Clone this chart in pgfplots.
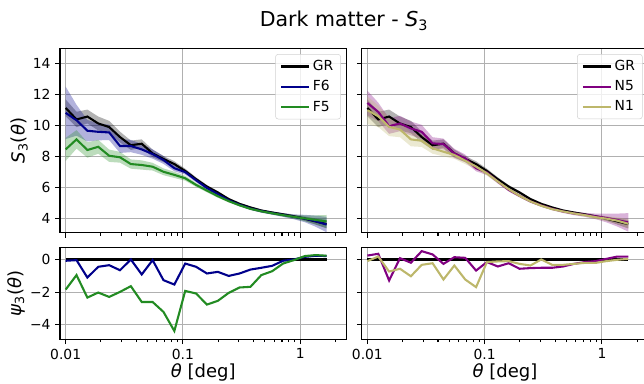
\documentclass[border=0pt]{standalone}
\usepackage{fontspec}
\setmainfont{DejaVu Sans}
\usepackage{pgfplots}
\pgfplotsset{compat=1.18}
\usepackage{pgfplotstable}
\usepgfplotslibrary{fillbetween}

\definecolor{cF6}{RGB}{0,0,139}
\definecolor{cF5}{RGB}{34,139,34}
\definecolor{cN5}{RGB}{128,0,128}
\definecolor{cN1}{RGB}{189,183,107}
\definecolor{gridc}{RGB}{176,176,176}

\pgfplotstableread{
x gr egr f6 ef6 f5 ef5 n5 en5 n1 en1
0.01000 11.14 0.55 10.82 1.70 8.45 0.75 11.46 0.80 10.99 0.90
0.01238 10.39 0.50 10.34 1.00 9.10 0.60 10.88 0.60 10.60 0.70
0.01532 10.58 0.45 9.66 0.70 8.41 0.50 9.96 0.50 9.91 0.60
0.01897 10.13 0.45 9.59 0.55 8.62 0.45 10.13 0.50 9.74 0.50
0.02349 9.90 0.40 9.55 0.50 8.04 0.40 9.81 0.45 9.10 0.45
0.02907 9.25 0.35 8.67 0.45 7.94 0.35 9.59 0.45 9.01 0.40
0.03598 8.72 0.30 8.67 0.40 7.50 0.30 8.84 0.40 8.52 0.35
0.04454 8.82 0.28 8.45 0.35 7.44 0.30 8.80 0.35 8.30 0.30
0.05515 8.19 0.25 8.15 0.30 7.33 0.25 8.19 0.30 8.09 0.25
0.06827 7.83 0.20 7.76 0.25 7.00 0.22 7.87 0.25 7.72 0.22
0.08451 7.50 0.18 7.23 0.20 6.80 0.20 7.23 0.20 7.33 0.18
0.1046 7.05 0.15 6.98 0.16 6.58 0.16 6.95 0.16 6.90 0.15
0.1295 6.52 0.12 6.45 0.13 6.15 0.13 6.37 0.13 6.37 0.12
0.1603 6.04 0.10 5.95 0.11 5.78 0.11 5.83 0.11 5.87 0.10
0.1985 5.66 0.09 5.55 0.10 5.42 0.10 5.44 0.10 5.44 0.09
0.2457 5.23 0.08 5.15 0.09 5.10 0.09 5.08 0.09 5.08 0.08
0.3041 4.92 0.07 4.86 0.09 4.83 0.08 4.82 0.09 4.80 0.08
0.3765 4.69 0.07 4.62 0.09 4.60 0.08 4.60 0.09 4.58 0.08
0.4661 4.49 0.07 4.45 0.10 4.44 0.08 4.43 0.10 4.43 0.08
0.5770 4.36 0.07 4.32 0.10 4.31 0.09 4.30 0.11 4.30 0.09
0.7143 4.24 0.08 4.20 0.12 4.19 0.10 4.21 0.13 4.19 0.10
0.8842 4.11 0.10 4.08 0.16 4.08 0.13 4.11 0.18 4.06 0.12
1.095 3.96 0.14 3.97 0.24 3.98 0.20 4.00 0.28 3.96 0.16
1.355 3.78 0.20 3.80 0.36 3.88 0.30 3.87 0.42 3.83 0.22
1.677 3.61 0.28 3.58 0.50 3.78 0.42 3.72 0.60 3.63 0.30
}\dataS

\pgfplotstableread{
x pf6 pf5 pn5 pn1
0.01000 -0.08 -1.85 0.24 -0.10
0.01238 -0.04 -0.96 0.35 0.18
0.01532 -1.11 -2.34 -1.29 -0.74
0.01897 -0.45 -2.03 0.08 -0.57
0.02349 -0.35 -2.30 -0.20 -1.03
0.02907 -0.66 -1.99 0.51 -0.33
0.03598 0.00 -1.64 0.31 -0.23
0.04454 -0.92 -2.61 -0.27 -1.23
0.05515 -0.04 -2.61 0.14 -0.37
0.06827 -1.27 -3.22 0.10 -1.23
0.08451 -1.54 -4.39 -0.68 -1.70
0.1046 -0.25 -1.93 -0.16 -0.16
0.1295 -0.45 -2.09 -0.43 -0.12
0.1603 -0.86 -2.77 -0.23 -0.10
0.1985 -0.76 -2.54 -0.57 -0.27
0.2457 -1.01 -2.05 -0.53 -0.37
0.3041 -0.86 -1.72 -0.51 0.00
0.3765 -0.62 -1.68 -0.51 -0.33
0.4661 -0.51 -0.96 -0.43 -0.33
0.5770 -0.39 -0.72 -0.27 -0.27
0.7143 -0.08 -0.25 -0.16 -0.21
0.8842 0.00 -0.04 -0.10 -0.21
1.095 0.16 0.21 0.04 -0.10
1.355 0.23 0.27 0.18 -0.02
1.677 0.21 0.23 0.18 0.04
}\dataP

\pgfplotsset{
  every axis/.append style={
    scale only axis, width=215pt,
    axis line style={line width=0.8pt},
    major tick length=3.6pt, minor tick length=2.1pt,
    tick align=outside, xtick pos=left, ytick pos=left,
    xmajorgrids, ymajorgrids,
    grid style={gridc, line width=0.8pt},
    tick style={black, line width=0.8pt},
    tick label style={font=\fontsize{10.4}{12}\selectfont},
    label style={font=\fontsize{13.5}{16}\selectfont},
    xlabel style={yshift=3.5pt},
    ylabel style={yshift=-3pt},
    legend style={at={(1,1)}, anchor=north east, xshift=-4.3pt, yshift=-4.3pt,
      draw=gray!35, rounded corners=2pt, fill=white, fill opacity=0.8, text opacity=1,
      font=\fontsize{10.4}{12}\selectfont, inner xsep=3.5pt, inner ysep=2.5pt,
      row sep=2pt, cells={anchor=west}},
  },
  legend image code/.code={\draw[#1, line width=1.56pt] (0pt,0pt) -- (21pt,0pt);},
}

\begin{document}
\begin{tikzpicture}

\node at (258pt,272pt) {\fontsize{15.4}{18}\selectfont Dark matter - {\itshape S}\textsubscript{3}};

% top left
\begin{axis}[at={(45pt,112.7pt)}, anchor=south west,
  height=138.3pt, xmode=log, xmin=0.00895, xmax=2.49, ymin=3.05, ymax=15.0,
  xtick={0.01,0.1,1}, xticklabels={},
  minor xtick={0.02,0.03,0.04,0.05,0.06,0.07,0.08,0.09,0.2,0.3,0.4,0.5,0.6,0.7,0.8,0.9,2},
  ytick={4,6,8,10,12,14}, yticklabels={4,6,8,10,12,14},
  ylabel={{\itshape S}\textsubscript{3}({\itshape θ})}]
\addplot[name path=aU, draw=none, forget plot] table[x=x, y expr=\thisrow{gr}+\thisrow{egr}] {\dataS};
\addplot[name path=aL, draw=none, forget plot] table[x=x, y expr=\thisrow{gr}-\thisrow{egr}] {\dataS};
\addplot[black, opacity=0.3, forget plot] fill between[of=aU and aL];
\addplot[name path=bU, draw=none, forget plot] table[x=x, y expr=\thisrow{f6}+\thisrow{ef6}] {\dataS};
\addplot[name path=bL, draw=none, forget plot] table[x=x, y expr=\thisrow{f6}-\thisrow{ef6}] {\dataS};
\addplot[cF6, opacity=0.3, forget plot] fill between[of=bU and bL];
\addplot[name path=cU, draw=none, forget plot] table[x=x, y expr=\thisrow{f5}+\thisrow{ef5}] {\dataS};
\addplot[name path=cL, draw=none, forget plot] table[x=x, y expr=\thisrow{f5}-\thisrow{ef5}] {\dataS};
\addplot[cF5, opacity=0.3, forget plot] fill between[of=cU and cL];
\addplot[black, line width=1.56pt] table[x=x, y=gr] {\dataS};
\addplot[cF6, line width=1.56pt] table[x=x, y=f6] {\dataS};
\addplot[cF5, line width=1.56pt] table[x=x, y=f5] {\dataS};
\legend{GR, F6, F5}
\end{axis}

% top right
\begin{axis}[at={(271.3pt,112.7pt)}, anchor=south west,
  height=138.3pt, xmode=log, xmin=0.00895, xmax=2.49, ymin=3.05, ymax=15.0,
  xtick={0.01,0.1,1}, xticklabels={},
  minor xtick={0.02,0.03,0.04,0.05,0.06,0.07,0.08,0.09,0.2,0.3,0.4,0.5,0.6,0.7,0.8,0.9,2},
  ytick={4,6,8,10,12,14}, yticklabels={}]
\addplot[name path=dU, draw=none, forget plot] table[x=x, y expr=\thisrow{gr}+\thisrow{egr}] {\dataS};
\addplot[name path=dL, draw=none, forget plot] table[x=x, y expr=\thisrow{gr}-\thisrow{egr}] {\dataS};
\addplot[black, opacity=0.3, forget plot] fill between[of=dU and dL];
\addplot[name path=eU, draw=none, forget plot] table[x=x, y expr=\thisrow{n5}+\thisrow{en5}] {\dataS};
\addplot[name path=eL, draw=none, forget plot] table[x=x, y expr=\thisrow{n5}-\thisrow{en5}] {\dataS};
\addplot[cN5, opacity=0.3, forget plot] fill between[of=eU and eL];
\addplot[name path=fU, draw=none, forget plot] table[x=x, y expr=\thisrow{n1}+\thisrow{en1}] {\dataS};
\addplot[name path=fL, draw=none, forget plot] table[x=x, y expr=\thisrow{n1}-\thisrow{en1}] {\dataS};
\addplot[cN1, opacity=0.3, forget plot] fill between[of=fU and fL];
\addplot[black, line width=1.56pt] table[x=x, y=gr] {\dataS};
\addplot[cN5, line width=1.56pt] table[x=x, y=n5] {\dataS};
\addplot[cN1, line width=1.56pt] table[x=x, y=n1] {\dataS};
\legend{GR, N5, N1}
\end{axis}

% bottom left
\begin{axis}[at={(45pt,32.8pt)}, anchor=south west,
  height=69pt, xmode=log, xmin=0.00895, xmax=2.49, ymin=-4.9, ymax=0.75,
  xtick={0.01,0.1,1}, xticklabels={0.01,0.1,1},
  minor xtick={0.02,0.03,0.04,0.05,0.06,0.07,0.08,0.09,0.2,0.3,0.4,0.5,0.6,0.7,0.8,0.9,2},
  ytick={-4,-2,0}, yticklabels={−4,−2,0},
  xlabel={{\itshape θ} [deg]},
  ylabel={{\itshape ψ}\textsubscript{3}({\itshape θ})}]
\addplot[black, line width=1.56pt] coordinates {(0.01,0) (1.677,0)};
\addplot[cF6, line width=1.56pt] table[x=x, y=pf6] {\dataP};
\addplot[cF5, line width=1.56pt] table[x=x, y=pf5] {\dataP};
\end{axis}

% bottom right
\begin{axis}[at={(271.3pt,32.8pt)}, anchor=south west,
  height=69pt, xmode=log, xmin=0.00895, xmax=2.49, ymin=-4.9, ymax=0.75,
  xtick={0.01,0.1,1}, xticklabels={0.01,0.1,1},
  minor xtick={0.02,0.03,0.04,0.05,0.06,0.07,0.08,0.09,0.2,0.3,0.4,0.5,0.6,0.7,0.8,0.9,2},
  ytick={-4,-2,0}, yticklabels={},
  xlabel={{\itshape θ} [deg]}]
\addplot[black, line width=1.56pt] coordinates {(0.01,0) (1.677,0)};
\addplot[cN5, line width=1.56pt] table[x=x, y=pn5] {\dataP};
\addplot[cN1, line width=1.56pt] table[x=x, y=pn1] {\dataP};
\end{axis}

\pgfresetboundingbox
\useasboundingbox (0,0) rectangle (483pt,287.25pt);
\end{tikzpicture}
\end{document}
